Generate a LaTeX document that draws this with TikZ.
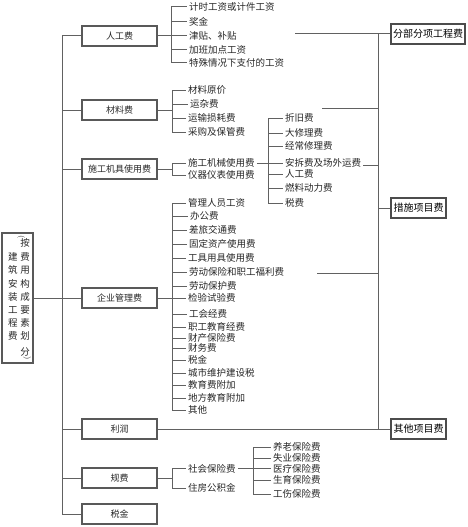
\documentclass[tikz,border=0pt]{standalone}
\usepackage{fontspec}
\newfontfamily\cjk{Noto Sans CJK SC}
\begin{document}
\begin{tikzpicture}[x=1pt,y=-1pt,
  conn/.style={draw=black!62, line width=1pt},
  lvbox/.style={draw=black!65, line width=1.3pt, minimum width=75pt, minimum height=20pt, inner sep=0pt, font=\cjk\fontsize{9}{9}\selectfont, text=black!85},
  rbox/.style={draw=black!70, line width=1.1pt, minimum height=20pt, inner xsep=1.5pt, inner ysep=0pt, font=\cjk\fontsize{10}{10}\selectfont, text=black},
  item/.style={anchor=west, inner xsep=2pt, inner ysep=0pt, font=\cjk\fontsize{9.5}{9.5}\selectfont, text=black!85},
  ch/.style={inner sep=0pt, font=\cjk\fontsize{9.5}{9.5}\selectfont, text=black!85},
  paren/.style={inner sep=0pt, rotate=-90, font=\fontsize{8}{8}\selectfont, text=black!85}
]
\useasboundingbox (0,0) rectangle (468,527);

% left box
\node[draw=black!65, line width=1.3pt, minimum width=31pt, minimum height=130pt, inner sep=0pt] (lb) at (17.5,298) {};
\foreach \c/\y [count=\i] in {建/257,筑/270,安/284,装/297,工/310,程/323,费/336}
  \node[ch] (lL\i) at (13,\y) {\c};
\foreach \c/\y [count=\i] in {按/243,费/257,用/270,构/284,成/297,要/310,素/323,划/336,分/352}
  \node[ch] (lR\i) at (25,\y) {\c};
\node[paren] (pa) at (21,237) {(};
\node[paren] (pb) at (27,358) {)};

% level-1 boxes
\node[lvbox] (rg) at (119.5,36) {人工费};
\node[lvbox] (cl) at (119.5,110) {材料费};
\node[lvbox] (jj) at (119.5,169) {施工机具使用费};
\node[lvbox] (qy) at (119.5,298) {企业管理费};
\node[lvbox] (lr) at (119.5,429) {利润};
\node[lvbox] (gf) at (119.5,478) {规费};
\node[lvbox] (sj) at (119.5,514) {税金};

% right boxes
\node[rbox, minimum width=74pt] (fbx) at (428,34) {分部分项工程费};
\node[rbox, minimum width=55pt] (csx) at (418.5,208) {措施项目费};
\node[rbox, minimum width=55pt] (qt) at (418.5,429) {其他项目费};

% left spine
\coordinate (ls) at (62,0);
\draw[conn] (rg.west) -| (ls |- sj.west) -- (sj.west);
\foreach \n in {cl,jj,lr,gf} \draw[conn] (\n.west) -- (\n.west -| ls);
\draw[conn] (lb.east) -- (qy.west);

% group A
\coordinate (ba) at (171,0);
\node[item] (a1) at (187,7) {计时工资或计件工资};
\node[item] (a2) at (187,21.5) {奖金};
\node[item] (a3) at (187,36) {津贴、补贴};
\node[item] (a4) at (187,49.5) {加班加点工资};
\node[item] (a5) at (187,63) {特殊情况下支付的工资};
\draw[conn] (a1.west -| ba) -- (a5.west -| ba);
\foreach \n in {a1,a2,a3,a4,a5} \draw[conn] (\n.west -| ba) -- (\n.west);
\draw[conn] (rg.east) -- (rg.east -| ba);

% group B
\coordinate (bb) at (172,0);
\node[item] (b1) at (186,90) {材料原价};
\node[item] (b2) at (188,104) {运杂费};
\node[item] (b3) at (186,118) {运输损耗费};
\node[item] (b4) at (186,132) {采购及保管费};
\draw[conn] (b1.west -| bb) -- (b4.west -| bb);
\foreach \n in {b1,b2,b3,b4} \draw[conn] (\n.west -| bb) -- (\n.west);
\draw[conn] (cl.east) -- (cl.east -| bb);

% group C
\node[item] (c1) at (186,163) {施工机械使用费};
\node[item] (c2) at (186,175) {仪器仪表使用费};
\draw[conn] (c1.west -| bb) -- (c2.west -| bb);
\foreach \n in {c1,c2} \draw[conn] (\n.west -| bb) -- (\n.west);
\draw[conn] (jj.east) -- (jj.east -| bb);

% group C2
\coordinate (bc) at (268,0);
\node[item] (k1) at (283,118) {折旧费};
\node[item] (k2) at (283,133) {大修理费};
\node[item] (k3) at (283,146) {经常修理费};
\node[item] (k4) at (283,163) {安拆费及场外运费};
\node[item] (k5) at (283,174) {人工费};
\node[item] (k6) at (283,188) {燃料动力费};
\node[item] (k7) at (283,203) {税费};
\draw[conn] (k1.west -| bc) -- (k7.west -| bc);
\foreach \n in {k1,k2,k3,k4,k5,k6,k7} \draw[conn] (\n.west -| bc) -- (\n.west);
\draw[conn] (c1.east) -- (c1.east -| bc);

% group D
\node[item] (d1) at (186,203) {管理人员工资};
\node[item] (d2) at (188,216) {办公费};
\node[item] (d3) at (187,230) {差旅交通费};
\node[item] (d4) at (187,244) {固定资产使用费};
\node[item] (d5) at (186,258) {工具用具使用费};
\node[item] (d6) at (187,272) {劳动保险和职工福利费};
\node[item] (d7) at (187,286) {劳动保护费};
\node[item] (d8) at (186,298) {检验试验费};
\node[item] (d9) at (187,314) {工会经费};
\node[item] (d10) at (186,327) {职工教育经费};
\node[item] (d11) at (186,338) {财产保险费};
\node[item] (d12) at (186,348) {财务费};
\node[item] (d13) at (186,360) {税金};
\node[item] (d14) at (186,373) {城市维护建设税};
\node[item] (d15) at (186,385) {教育费附加};
\node[item] (d16) at (186,398) {地方教育附加};
\node[item] (d17) at (186,410) {其他};
\draw[conn] (d1.west -| bb) -- (d17.west -| bb);
\foreach \n in {d1,d2,d3,d4,d5,d6,d7,d8,d9,d10,d11,d12,d13,d14,d15,d16,d17} \draw[conn] (\n.west -| bb) -- (\n.west);
\draw[conn] (qy.east) -- (qy.east -| bb);

% group E
\node[item] (e1) at (186,468.5) {社会保险费};
\node[item] (e2) at (186,488) {住房公积金};
\draw[conn] (e1.west -| bb) -- (e2.west -| bb);
\foreach \n in {e1,e2} \draw[conn] (\n.west -| bb) -- (\n.west);
\draw[conn] (gf.east) -- (gf.east -| bb);

% group E2
\coordinate (be) at (253,0);
\node[item] (s1) at (271,447) {养老保险费};
\node[item] (s2) at (271,458) {失业保险费};
\node[item] (s3) at (271,468.5) {医疗保险费};
\node[item] (s4) at (271,480) {生育保险费};
\node[item] (s5) at (271,494) {工伤保险费};
\draw[conn] (s1.west -| be) -- (s5.west -| be);
\foreach \n in {s1,s2,s3,s4,s5} \draw[conn] (\n.west -| be) -- (\n.west);
\draw[conn] (e1.east) -- (e1.east -| be);

% right spine
\coordinate (rs) at (378,0);
\draw[conn] (fbx.west -| rs) -- (qt.west -| rs);
\coordinate (fa) at (295,34);
\draw[conn] (fa) -- (fbx.west);
\coordinate (fb) at (322,108);
\draw[conn] (fb) -- (fb -| rs);
\draw[conn] ([yshift=2pt]k4.south east) -- ([yshift=2pt]k4.south east -| rs);
\coordinate (fd) at (317,273);
\draw[conn] (fd) -- (fd -| rs);
\draw[conn] (csx.west -| rs) -- (csx.west);
\draw[conn] (lr.east) -- (qt.west);
\end{tikzpicture}
\end{document}
